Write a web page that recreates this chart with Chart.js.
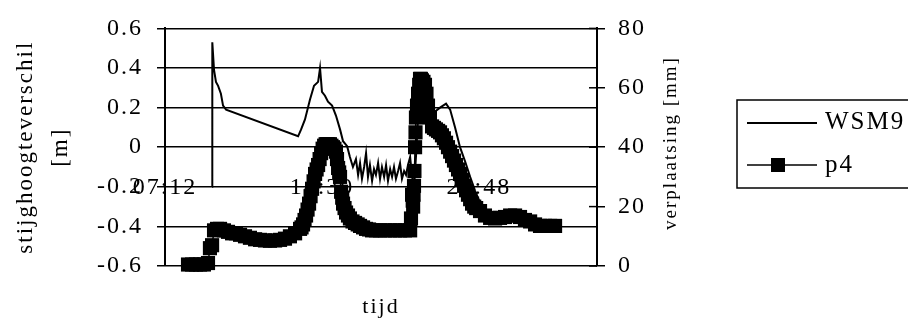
<!DOCTYPE html>
<html><head><meta charset="utf-8">
<script src="https://cdn.jsdelivr.net/npm/chart.js@4.4.1/dist/chart.umd.min.js"></script>
<style>html,body{margin:0;padding:0;background:#fff;}canvas{display:block;}</style>
</head><body>
<canvas id="c" width="908" height="327"></canvas>
<script>
// ---- data (time in hours of day, >24 = next day) ----
const tickHours = [7.2, 14.5, 21.8];
const tickLabels = ['07:12', '14:30', '21:48'];
const xMin = 7.2, xMax = 27.29;
const seriesNames = ['WSM9', 'p4'];
const leftTitle = ['stijghoogteverschil', '[m]'];
const rightTitle = 'verplaatsing [mm]';
const xTitle = 'tijd';

const wsm9Hours = [9.39, 9.40, 9.48, 9.57, 9.67, 9.80, 9.90, 10.04,
  13.39, 13.53, 13.71, 13.94, 14.13, 14.32, 14.41, 14.50, 14.64, 14.78, 14.97, 15.15, 15.34, 15.48, 15.67, 15.80, 15.94,
  16.08, 16.18, 16.27, 16.36, 16.46, 16.55, 16.64, 16.73, 16.83, 16.92, 17.01, 17.11, 17.20, 17.29, 17.39, 17.48, 17.57,
  17.67, 17.76, 17.85, 17.94, 18.04, 18.13, 18.22, 18.32, 18.41, 18.50, 18.60, 18.69, 18.78, 18.87, 18.97, 19.06,
  19.29, 19.53, 19.76, 19.99, 20.27, 20.46, 20.69, 20.92, 21.15, 21.39, 21.62, 21.85, 22.08, 22.32, 22.78, 23.25,
  23.71, 24.18, 24.64, 25.34];
const wsm9Values = [-0.20, 0.53, 0.39, 0.33, 0.31, 0.27, 0.21, 0.19,
  0.055, 0.09, 0.14, 0.24, 0.31, 0.33, 0.40, 0.28, 0.26, 0.23, 0.21, 0.16, 0.09, 0.03, 0.005, -0.05, -0.10,
  -0.06, -0.14, -0.08, -0.16, -0.10, -0.03, -0.15, -0.09, -0.17, -0.11, -0.14, -0.08, -0.16, -0.10, -0.15, -0.09, -0.17,
  -0.11, -0.15, -0.10, -0.16, -0.12, -0.08, -0.16, -0.12, -0.14, -0.09, -0.05, -0.15, -0.20, -0.05, 0.15, 0.30,
  0.25, 0.20, 0.18, 0.20, 0.22, 0.19, 0.10, 0.0, -0.07, -0.15, -0.22, -0.28, -0.31, -0.33, -0.35, -0.34,
  -0.35, -0.37, -0.38, -0.39];

const p4Hours = [8.27, 8.46, 8.64, 8.83, 9.01, 9.20, 9.29, 9.39, 9.48, 9.62, 9.76, 9.94,
  10.13, 10.32, 10.50, 10.69, 10.92, 11.15, 11.39, 11.62, 11.85, 12.08, 12.32, 12.55, 12.78, 13.01, 13.25, 13.48,
  13.55, 13.62, 13.69, 13.76, 13.83, 13.90, 13.97, 14.04, 14.11, 14.18, 14.25, 14.32, 14.39, 14.46, 14.53, 14.60, 14.67, 14.73, 14.80, 14.87,
  14.94, 15.01, 15.08, 15.15, 15.20, 15.25, 15.30, 15.34, 15.39, 15.44, 15.48, 15.55,
  15.62, 15.71, 15.80, 15.92, 16.04, 16.16, 16.27, 16.41, 16.55, 16.69, 16.83, 17.01, 17.20, 17.44, 17.67, 17.90, 18.13, 18.36, 18.60,
  18.64, 18.69, 18.72, 18.74, 18.76, 18.78, 18.80, 18.83, 18.85, 18.87, 18.92, 18.97, 19.02,
  19.06, 19.10, 19.15, 19.22, 19.29, 19.36, 19.43, 19.52, 19.62, 19.71, 19.80, 19.90, 19.99, 20.08, 20.17, 20.27, 20.36, 20.46, 20.55, 20.64,
  20.73, 20.83, 20.92, 21.02, 21.11, 21.20, 21.29, 21.39, 21.48, 21.58, 21.67,
  21.85, 22.08, 22.32, 22.55, 22.78, 23.01, 23.25, 23.48, 23.71, 23.94, 24.18, 24.41, 24.64, 24.87, 25.11, 25.34];
const p4Values = [0.5, 0.5, 0.5, 0.5, 0.5, 1, 6, 7, 12, 12.5, 12.5, 12,
  11.5, 11, 11, 10.5, 10, 9.5, 9, 8.8, 8.6, 8.5, 8.6, 8.8, 9.2, 10, 11, 12.5,
  13, 14, 15.5, 17, 19, 21, 23.5, 26, 28.5, 31, 32.5, 34, 36, 38, 39.5, 40.5, 41, 41, 41, 41,
  40.5, 40, 39.5, 38.5, 36, 33, 31.5, 30, 25, 23, 21, 19.5,
  18, 17, 16, 15, 14.5, 14, 13.5, 13, 12.5, 12.3, 12, 12, 12, 12, 12, 12, 12, 12, 12,
  16, 24, 22, 20, 24, 27, 32, 40, 45, 50, 54, 58, 61,
  63, 63, 62.5, 62, 61, 58, 54, 50, 47, 46.5, 46, 45.5, 45, 44, 43, 41.5, 40, 38.5, 37, 35.5,
  34, 32.5, 31, 29, 27, 25.5, 24, 22.5, 21, 20, 19.5,
  18.5, 17, 16.2, 16, 16.2, 16.5, 17, 17, 16.5, 15.5, 15, 14, 13.5, 13.5, 13.5, 13.5];

const FONT = "'Liberation Serif','Times New Roman',serif";
const LS = '2px';

const extras = {
  id: 'extras',
  beforeUpdate(c) { c.ctx.letterSpacing = LS; },
  beforeDraw(c) { c.ctx.letterSpacing = LS; },
  afterDraw(c) {
    const ctx = c.ctx, y1 = c.scales.y1, area = c.chartArea;
    ctx.save();
    ctx.letterSpacing = LS;
    ctx.strokeStyle = '#000';
    ctx.fillStyle = '#000';
    ctx.lineWidth = 1.5;
    // inner halves of the right-axis tick marks
    y1.ticks.forEach(t => {
      const py = y1.getPixelForValue(t.value);
      ctx.beginPath(); ctx.moveTo(area.right - 8, py); ctx.lineTo(area.right, py); ctx.stroke();
    });
    // right axis title (reads bottom to top)
    ctx.save();
    ctx.font = '19px ' + FONT;
    ctx.textAlign = 'center'; ctx.textBaseline = 'middle';
    ctx.translate(671, 143); ctx.rotate(-Math.PI / 2);
    ctx.fillText(rightTitle, 0, 0);
    ctx.restore();
    // legend
    ctx.lineWidth = 1.5;
    ctx.strokeRect(737, 100, 200, 88);
    ctx.font = '25px ' + FONT;
    ctx.textAlign = 'left'; ctx.textBaseline = 'alphabetic';
    ctx.lineWidth = 2;
    ctx.beginPath(); ctx.moveTo(747, 123); ctx.lineTo(817, 123); ctx.stroke();
    ctx.fillText(seriesNames[0], 825, 129);
    ctx.lineWidth = 1.5;
    ctx.beginPath(); ctx.moveTo(747, 165); ctx.lineTo(817, 165); ctx.stroke();
    ctx.fillRect(778 - 7, 165 - 7, 14, 14);
    ctx.fillText(seriesNames[1], 825, 172);
    ctx.restore();
  }
};

new Chart(document.getElementById('c'), {
  type: 'line',
  data: {
    datasets: [
      {
        label: seriesNames[1],
        data: p4Hours.map((h, i) => ({ x: h, y: p4Values[i] })),
        xAxisID: 'x', yAxisID: 'y1',
        borderColor: '#000', borderWidth: 1.5,
        pointStyle: 'rect', pointRadius: 10,
        pointBackgroundColor: '#000', pointBorderColor: '#000', pointBorderWidth: 0,
        tension: 0, clip: false, order: 0
      },
      {
        label: seriesNames[0],
        data: wsm9Hours.map((h, i) => ({ x: h, y: wsm9Values[i] })),
        xAxisID: 'x', yAxisID: 'y',
        borderColor: '#000', borderWidth: 2, pointRadius: 0,
        tension: 0, clip: false, order: 1
      }
    ]
  },
  options: {
    responsive: false, animation: false, devicePixelRatio: 1,
    layout: { padding: { top: 24, right: 211, left: 0, bottom: 0 } },
    plugins: { legend: { display: false }, tooltip: { enabled: false } },
    scales: {
      x: {
        type: 'linear', position: 'bottom', min: xMin, max: xMax,
        ticks: { display: false }, grid: { display: false, drawTicks: false }, border: { display: false },
        title: { display: true, text: xTitle, color: '#000', font: { family: FONT, size: 22 }, padding: { top: 28, bottom: 7 } },
        afterFit(s) { s.height = 61; }
      },
      xl: {
        type: 'linear', axis: 'x', position: { y: -0.2 }, min: xMin, max: xMax,
        afterBuildTicks(s) { s.ticks = tickHours.map(v => ({ value: v })); },
        ticks: {
          autoSkip: false, maxRotation: 0, color: '#000', font: { family: FONT, size: 24 }, padding: -13,
          callback: (v) => { const i = tickHours.indexOf(v); return i >= 0 ? tickLabels[i] : ''; }
        },
        grid: { display: false, drawTicks: false }, border: { display: false }
      },
      y: {
        type: 'linear', position: 'left', min: -0.6, max: 0.6,
        ticks: { stepSize: 0.2, color: '#000', font: { family: FONT, size: 24 }, padding: 14,
          callback: v => String(Math.round(v * 10) / 10 || 0) },
        grid: { color: '#000', lineWidth: 1.5, tickLength: 8, tickColor: '#000' },
        border: { display: true, color: '#000', width: 2 },
        title: { display: true, text: leftTitle, color: '#000', font: { family: FONT, size: 23, lineHeight: 1.52 }, padding: { top: 8.5, bottom: 0 } },
        afterFit(s) { s.width = 165; }
      },
      y1: {
        type: 'linear', position: 'right', min: 0, max: 80,
        ticks: { stepSize: 20, color: '#000', font: { family: FONT, size: 24 }, padding: 13 },
        grid: { drawOnChartArea: false, color: '#000', lineWidth: 1.5, tickLength: 8 },
        border: { display: true, color: '#000', width: 2 },
        afterFit(s) { s.width = 100; }
      }
    }
  },
  plugins: [extras]
});
</script>
</body></html>
